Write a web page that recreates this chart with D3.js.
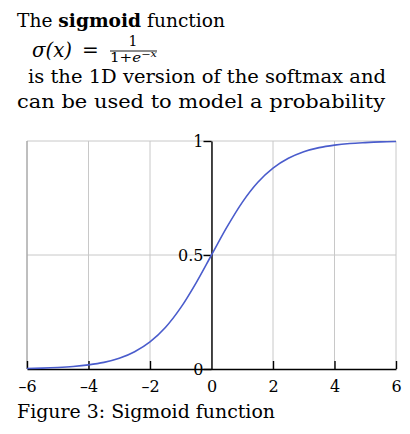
<!DOCTYPE html>
<html><head><meta charset="utf-8">
<script src="https://cdn.jsdelivr.net/npm/d3@7"></script>
<style>body{margin:0;background:#fff}svg{display:block}text{font-family:"DejaVu Serif",serif;fill:#000}</style>
</head><body><svg id="c" width="410" height="434"></svg>
<script>
const xTicks = [-6, -4, -2, 0, 2, 4, 6];
const yTicks = [0, 0.5, 1];
const yTickLabels = ["0", "0.5", "1"];
const xs = [-6,-5.5,-5,-4.5,-4,-3.5,-3,-2.5,-2,-1.5,-1,-0.5,0,0.5,1,1.5,2,2.5,3,3.5,4,4.5,5,5.5,6];
const ys = [0.0025,0.004,0.0067,0.011,0.018,0.029,0.047,0.076,0.119,0.182,0.269,0.378,0.5,0.622,0.731,0.818,0.881,0.924,0.953,0.971,0.982,0.989,0.993,0.996,0.9975];

const FONT = '"DejaVu Serif",serif';
const svg = d3.select("#c");
const x = d3.scaleLinear().domain([-6, 6]).range([27, 396]);
const y = d3.scaleLinear().domain([0, 1]).range([369, 141]);

// grid
const g = svg.append("g");
g.selectAll(".vg").data(xTicks).join("line")
  .attr("x1", d => x(d)).attr("x2", d => x(d)).attr("y1", y(0)).attr("y2", y(1))
  .attr("stroke", "#c8c8c8").attr("stroke-width", 1);
g.selectAll(".hg").data(yTicks.slice(1)).join("line")
  .attr("x1", x(-6)).attr("x2", x(6)).attr("y1", d => y(d)).attr("y2", d => y(d))
  .attr("stroke", "#c8c8c8").attr("stroke-width", 1);
g.append("line").attr("x1", x(-6)).attr("x2", x(-6)).attr("y1", y(0)).attr("y2", y(1))
  .attr("stroke", "#9a9a9a");

// x axis
const xAxis = d3.axisBottom(x).tickValues(xTicks).tickSize(-8).tickSizeOuter(0)
  .tickFormat(d => d < 0 ? "\u2013" + Math.abs(d) : String(d));
const xa = svg.append("g").attr("transform", `translate(0,${y(0)})`).call(xAxis);
xa.attr("font-family", null).attr("font-size", null);
xa.select(".domain").attr("stroke", "#000").attr("stroke-width", 1.4);
xa.selectAll(".tick line").attr("stroke", "#000").attr("stroke-width", 1.4);
xa.selectAll(".tick").filter(d => d === 0).select("line").remove();
xa.selectAll(".tick text").attr("y", 12).attr("dy", "0.71em")
  .style("font-family", FONT).style("font-size", "16px").attr("fill", "#000");

// y axis
const yAxis = d3.axisLeft(y).tickValues(yTicks).tickSize(8).tickSizeOuter(0)
  .tickFormat((d, i) => yTickLabels[i]);
const ya = svg.append("g").attr("transform", `translate(${x(0)},0)`).call(yAxis);
ya.attr("font-family", null).attr("font-size", null);
ya.select(".domain").attr("stroke", "#000").attr("stroke-width", 1.4);
ya.selectAll(".tick line").attr("stroke", "#000").attr("stroke-width", 1.4);
ya.selectAll(".tick text").attr("x", -8).attr("dy", "0.36em")
  .style("font-family", FONT).style("font-size", "16px").attr("fill", "#000");

// curve
const pts = xs.map((v, i) => [v, ys[i]]);
svg.append("path").datum(pts)
  .attr("fill", "none").attr("stroke", "#4a5ccc").attr("stroke-width", 1.6)
  .attr("d", d3.line().x(d => x(d[0])).y(d => y(d[1])).curve(d3.curveMonotoneX));

// title text
const fs = 18;
const t1 = svg.append("text").attr("x", 17).attr("y", 27).style("font-size", fs + "px")
  .attr("textLength", 208).attr("lengthAdjust", "spacingAndGlyphs");
t1.append("tspan").text("The ");
t1.append("tspan").attr("font-weight", "bold").text("sigmoid");
t1.append("tspan").text(" function");

const f = svg.append("g");
f.append("text").attr("x", 32).attr("y", 57).style("font-size", "20px").style("font-style", "italic")
  .attr("textLength", 40).attr("lengthAdjust", "spacingAndGlyphs").text("σ(x)");
f.append("text").attr("x", 82).attr("y", 57).style("font-size", "20px").text("=");
f.append("text").attr("x", 133).attr("y", 46).attr("text-anchor", "middle").style("font-size", "14px").text("1");
f.append("line").attr("x1", 110).attr("x2", 157).attr("y1", 51).attr("y2", 51).attr("stroke", "#000").attr("stroke-width", 0.9);
const den = f.append("text").attr("x", 110).attr("y", 62).style("font-size", "12px")
  .attr("textLength", 47).attr("lengthAdjust", "spacingAndGlyphs");
den.append("tspan").text("1+");
den.append("tspan").style("font-style", "italic").text("e");
den.append("tspan").attr("dy", -5).style("font-size", "9px").text("\u2212");
den.append("tspan").style("font-size", "9px").style("font-style", "italic").text("x");

svg.append("text").attr("x", 28).attr("y", 83).style("font-size", fs + "px")
  .attr("textLength", 358).attr("lengthAdjust", "spacingAndGlyphs")
  .text("is the 1D version of the softmax and");
svg.append("text").attr("x", 17).attr("y", 108).style("font-size", fs + "px")
  .attr("textLength", 368).attr("lengthAdjust", "spacingAndGlyphs")
  .text("can be used to model a probability");

svg.append("text").attr("x", 17).attr("y", 418).style("font-size", fs + "px")
  .attr("textLength", 258).attr("lengthAdjust", "spacingAndGlyphs")
  .text("Figure 3: Sigmoid function");
</script></body></html>
